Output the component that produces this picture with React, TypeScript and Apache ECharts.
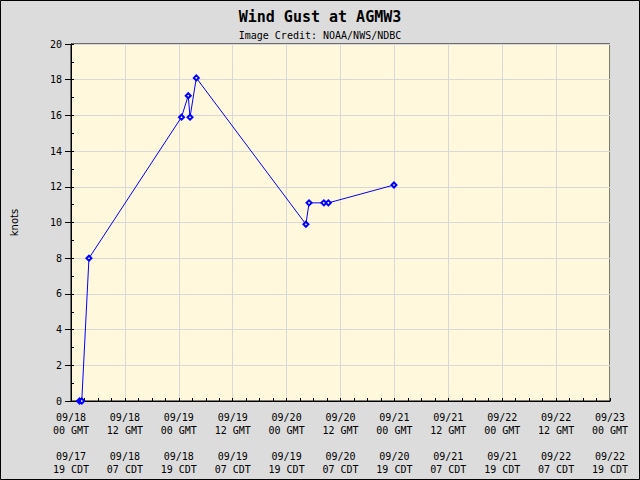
import React, { useEffect, useRef } from "react";
import * as echarts from "echarts";

const hours: number[] = [1.9, 2.4, 4.0, 24.6, 26.1, 26.5, 27.9, 52.3, 53.0, 56.3, 57.3, 71.9];
const gusts: number[] = [0, 0, 8.0, 15.9, 17.1, 15.9, 18.1, 9.9, 11.1, 11.1, 11.1, 12.1];

const gmtDates: string[] = ["09/18", "09/18", "09/19", "09/19", "09/20", "09/20", "09/21", "09/21", "09/22", "09/22", "09/23"];
const gmtHours: string[] = ["00 GMT", "12 GMT", "00 GMT", "12 GMT", "00 GMT", "12 GMT", "00 GMT", "12 GMT", "00 GMT", "12 GMT", "00 GMT"];
const cdtDates: string[] = ["09/17", "09/18", "09/18", "09/19", "09/19", "09/20", "09/20", "09/21", "09/21", "09/22", "09/22"];
const cdtHours: string[] = ["19 CDT", "07 CDT", "19 CDT", "07 CDT", "19 CDT", "07 CDT", "19 CDT", "07 CDT", "19 CDT", "07 CDT", "19 CDT"];

const MONO = "DejaVu Sans Mono";

export default function App() {
  const ref = useRef<HTMLDivElement>(null);
  useEffect(() => {
    document.body.style.margin = "0";
    if (!ref.current) return;
    const chart = echarts.init(ref.current, null, { renderer: "svg" });
    const data = hours.map((h, i) => [h, gusts[i]]);
    chart.setOption({
      animation: false,
      backgroundColor: "#dcdcdc",
      title: [
        {
          text: "Wind Gust at AGMW3",
          left: "center",
          top: 4,
          textStyle: { fontFamily: MONO, fontSize: 15, fontWeight: "bold", color: "#000" },
        },
        {
          text: "Image Credit: NOAA/NWS/NDBC",
          left: "center",
          top: 25,
          textStyle: { fontFamily: MONO, fontSize: 10, fontWeight: "normal", color: "#000" },
        },
      ],
      graphic: [
        {
          type: "rect",
          shape: { x: 0.5, y: 0.5, width: 639, height: 479 },
          style: { fill: "none", stroke: "#000", lineWidth: 1 },
          silent: true,
        },
      ],
      grid: {
        left: 71,
        top: 44,
        width: 539,
        height: 357,
        containLabel: false,
        outerBoundsMode: "none",
        show: true,
        backgroundColor: "#fff8dc",
        borderColor: "#000",
        borderWidth: 1,
      },
      xAxis: [
        {
          type: "value",
          min: 0,
          max: 120,
          interval: 12,
          position: "bottom",
          axisLine: { show: true, lineStyle: { color: "#000", width: 1 } },
          axisTick: { show: false },
          splitLine: { show: true, lineStyle: { color: "#d8d8d8", width: 1 } },
          axisLabel: {
            margin: 10,
            fontFamily: MONO,
            fontSize: 10,
            color: "#000",
            lineHeight: 13,
            formatter: (v: number) => {
              const i = Math.round(v / 12);
              return `${gmtDates[i]}\n${gmtHours[i]}\n\n${cdtDates[i]}\n${cdtHours[i]}`;
            },
          },
        },
        {
          type: "value",
          min: 0,
          max: 120,
          interval: 3,
          position: "bottom",
          axisLine: { show: false },
          axisTick: { show: true, inside: true, length: 3, lineStyle: { color: "#000" } },
          axisLabel: { show: false },
          splitLine: { show: false },
        },
      ],
      yAxis: [
        {
          type: "value",
          min: 0,
          max: 20,
          interval: 2,
          name: "knots",
          nameLocation: "middle",
          nameGap: 52,
          nameTextStyle: { fontFamily: "DejaVu Sans", fontSize: 10, color: "#000" },
          axisLine: { show: true, lineStyle: { color: "#000", width: 1 } },
          axisTick: { show: true, inside: false, length: 6, lineStyle: { color: "#000" } },
          splitLine: { show: true, lineStyle: { color: "#d8d8d8", width: 1 } },
          axisLabel: { margin: 9, fontFamily: MONO, fontSize: 10, color: "#000" },
        },
        {
          type: "value",
          min: 0,
          max: 20,
          interval: 1,
          position: "left",
          offset: 0,
          axisLine: { show: false },
          axisTick: { show: true, inside: true, length: 3, lineStyle: { color: "#000" } },
          axisLabel: { show: false },
          splitLine: { show: false },
        },
      ],
      series: [
        {
          type: "line",
          xAxisIndex: 0,
          yAxisIndex: 0,
          data,
          symbol: "emptyDiamond",
          symbolSize: 5,
          color: "#0000ff",
          lineStyle: { color: "#0000ff", width: 1 },
          itemStyle: { color: "#0000ff", borderWidth: 1 },
        },
      ],
    });
    return () => chart.dispose();
  }, []);
  return <div ref={ref} style={{ width: 640, height: 480 }} />;
}
